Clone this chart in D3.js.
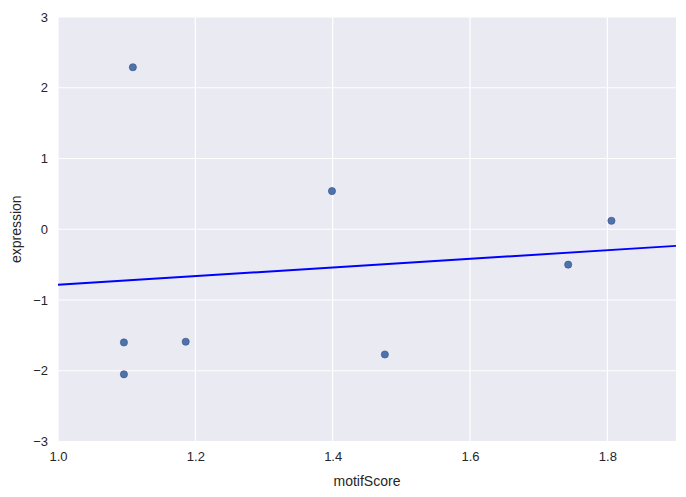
<!DOCTYPE html>
<html>
<head>
<meta charset="utf-8">
<script src="https://cdn.jsdelivr.net/npm/d3@7"></script>
<style>
  body { margin: 0; background: #fff; }
  text { font-family: "Liberation Sans", Arial, sans-serif; }
</style>
</head>
<body>
<svg id="svg1" width="686" height="497"></svg>
<script>
// scatter points
var motifScore = [1.109, 1.399, 1.806, 1.743, 1.476, 1.186, 1.096, 1.096];
var expression = [2.29, 0.54, 0.12, -0.50, -1.77, -1.59, -1.60, -2.05];

// fitted line end points
var lineX = [1.0, 1.9];
var lineY = [-0.785, -0.235];

var xTicks = [1.0, 1.2, 1.4, 1.6, 1.8];
var yTicks = [-3, -2, -1, 0, 1, 2, 3];

var marginLeft = 58;
var marginTop = 17;
var plotW = 676 - 58;
var plotH = 441.5 - 17;

var svg = d3.select('svg')
    .append('g')
    .attr('transform', 'translate(' + marginLeft + ',' + marginTop + ')');

var x = d3.scaleLinear().domain([1.0, 1.9]).range([0, plotW]);
var y = d3.scaleLinear().domain([-3, 3]).range([plotH, 0]);

svg.append('rect')
    .attr('width', plotW)
    .attr('height', plotH)
    .attr('fill', '#eaeaf2');

// grid
svg.selectAll('.vgrid')
    .data(xTicks)
    .enter()
    .append('line')
    .attr('x1', function(d){return x(d)})
    .attr('x2', function(d){return x(d)})
    .attr('y1', 0)
    .attr('y2', plotH)
    .attr('stroke', 'white')
    .attr('stroke-width', 1.2);

svg.selectAll('.hgrid')
    .data(yTicks)
    .enter()
    .append('line')
    .attr('y1', function(d){return y(d)})
    .attr('y2', function(d){return y(d)})
    .attr('x1', 0)
    .attr('x2', plotW)
    .attr('stroke', 'white')
    .attr('stroke-width', 1.2);

// axes (tick labels only)
var xAxis = svg.append('g')
    .attr('transform', 'translate(0,' + plotH + ')')
    .call(d3.axisBottom(x).tickValues(xTicks).tickFormat(d3.format('.1f')).tickSize(0).tickPadding(10));
var yAxis = svg.append('g')
    .call(d3.axisLeft(y).tickValues(yTicks).tickFormat(function(d){return d < 0 ? '\u2212' + Math.abs(d) : d}).tickSize(0).tickPadding(10));

[xAxis, yAxis].forEach(function(a){
    a.select('.domain').remove();
    a.selectAll('text')
        .attr('fill', '#262626')
        .style('font-size', '13px')
        .style('font-family', '"Liberation Sans", Arial, sans-serif');
});

svg.append('text')
    .text('motifScore')
    .attr('x', plotW / 2)
    .attr('y', plotH + 44)
    .attr('text-anchor', 'middle')
    .attr('fill', '#262626')
    .style('font-size', '14px');

svg.append('text')
    .text('expression')
    .attr('transform', 'translate(-37,' + (plotH / 2) + ') rotate(-90)')
    .attr('text-anchor', 'middle')
    .attr('fill', '#262626')
    .style('font-size', '14px');

// points
svg.selectAll('circle')
    .data(d3.range(motifScore.length))
    .enter()
    .append('circle')
    .attr('cx', function(i){return x(motifScore[i])})
    .attr('cy', function(i){return y(expression[i])})
    .attr('r', 3.6)
    .attr('fill', '#4c72b0')
    .attr('stroke', '#3a4f72')
    .attr('stroke-width', 0.6);

// regression line
svg.append('line')
    .attr('x1', x(lineX[0]))
    .attr('y1', y(lineY[0]))
    .attr('x2', x(lineX[1]))
    .attr('y2', y(lineY[1]))
    .attr('stroke', '#0000ff')
    .attr('stroke-width', 2);
</script>
</body>
</html>
